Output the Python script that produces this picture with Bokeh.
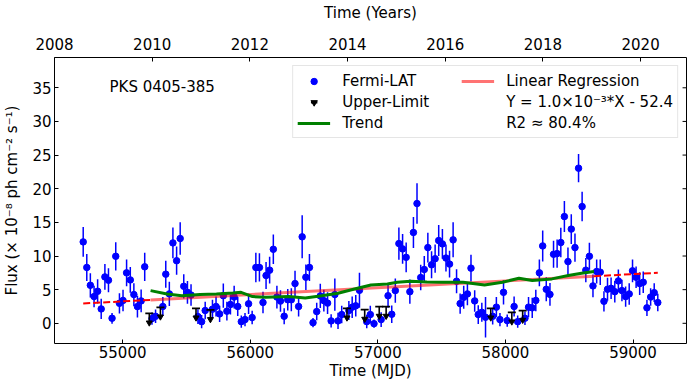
from bokeh.plotting import figure
from bokeh.models import Range1d, LinearAxis, FixedTicker, Legend, LegendItem, Label
from bokeh.embed import file_html
from bokeh.resources import INLINE

# ---------------- data ----------------
mjd = [54691, 54719, 54747, 54776, 54804, 54832, 54861, 54889, 54917, 54946,
       54975, 55003, 55031, 55060, 55088, 55116, 55145, 55173, 55230, 55258,
       55315, 55338, 55366, 55394, 55423, 55451, 55479, 55508, 55536, 55590,
       55619, 55647, 55704, 55732, 55760, 55789, 55817, 55845, 55874, 55902,
       55930, 55959, 55987, 56015, 56044, 56072, 56100, 56124, 56152, 56181,
       56209, 56237, 56266, 56294, 56322, 56351, 56379, 56407, 56436, 56464,
       56492, 56521, 56549, 56577, 56606, 56634, 56663, 56688, 56717, 56773,
       56799, 56827, 56856, 56913, 56941, 56970, 57026, 57080, 57109, 57137,
       57165, 57194, 57222, 57251, 57279, 57307, 57336, 57364, 57392, 57421,
       57449, 57477, 57506, 57534, 57562, 57590, 57617, 57645, 57673, 57702,
       57730, 57759, 57787, 57815, 57844, 57900, 57929, 57957, 57985, 58014,
       58068, 58096, 58153, 58181, 58210, 58238, 58266, 58292, 58320, 58349,
       58377, 58405, 58434, 58462, 58490, 58516, 58545, 58573, 58601, 58630,
       58658, 58686, 58715, 58743, 58772, 58800, 58828, 58857, 58885, 58913,
       58942, 58970, 58996, 59024, 59052, 59080, 59109, 59138, 59166, 59194]
flux = [12.1, 8.3, 5.65, 3.97, 4.76, 2.14, 6.9, 6.4, 0.75, 9.96,
        2.97, 3.4, 7.5, 6.45, 4.27, 2.48, 3.33, 8.4, 0.7, 1.04,
        2.5, 7.3, 4.37, 11.95, 9.3, 12.6, 5.5, 4.6, 4.2, 1.0,
        0.25, 1.9, 2.1, 2.5, 1.4, 4.1, 1.8, 2.8, 3.9, 2.5,
        0.25, 0.55, 2.9, 0.85, 8.3, 8.3, 3.1, 7.1, 7.9, 11.0,
        3.9, 3.3, 1.05, 3.5, 3.5, 5.9, 2.5, 12.85, 6.85, 8.3,
        0.1, 1.74, 4.07, 3.37, 3.0, 0.36, 4.27, 0.36, 1.3, 1.9,
        2.4, 2.6, 4.9, 0.25, 1.3, -0.05, 0.55, 4.1, 1.34, 4.86,
        11.85, 11.06, 9.8, 4.7, 13.5, 17.8, 6.8, 8.0, 11.25, 8.7,
        9.6, 12.3, 11.8, 9.7, 8.8, 12.4, 6.25, 2.93, 3.87, 4.37,
        8.2, 3.33, 1.3, 1.64, 0.9, 1.04, 2.4, 0.55, 4.6, 0.4,
        2.5, 0.25, 0.75, 2.4, 2.3, 3.4, 7.5, 11.5, 5.06, 4.3,
        10.26, 10.36, 12.0, 15.86, 9.17, 14.0, 11.25, 23.05, 17.35, 7.9,
        9.96, 5.56, 7.7, 7.6, 3.27, 5.06, 5.2, 4.7, 6.3, 4.86,
        3.97, 4.37, 7.8, 6.84, 5.9, 6.1, 2.3, 3.9, 4.56, 3.08]
flux_err = [2.2, 2.0, 1.8, 1.6, 1.8, 1.5, 1.9, 1.8, 0.8, 2.1,
            1.5, 1.6, 2.0, 1.9, 1.7, 1.6, 1.7, 2.1, 0.9, 1.0,
            1.4, 2.0, 1.8, 2.3, 2.1, 2.4, 1.8, 1.7, 1.6, 1.1,
            1.0, 1.3, 1.4, 1.5, 1.2, 1.8, 1.4, 1.5, 1.7, 1.4,
            0.9, 1.0, 1.5, 1.0, 2.2, 2.1, 1.6, 2.0, 2.0, 2.2,
            1.7, 1.6, 1.2, 1.6, 1.7, 1.9, 1.5, 3.2, 1.9, 2.0,
            0.7, 1.3, 1.8, 1.6, 1.6, 1.0, 2.4, 1.2, 1.3, 1.4,
            1.6, 1.6, 2.6, 1.0, 1.3, 0.6, 1.1, 1.8, 1.3, 1.8,
            2.4, 2.2, 2.2, 1.8, 2.3, 3.0, 1.9, 2.0, 2.2, 2.0,
            2.1, 2.3, 2.2, 2.0, 2.0, 2.6, 1.8, 1.5, 1.7, 1.7,
            2.0, 1.6, 1.4, 1.4, 3.0, 1.2, 1.5, 1.0, 1.8, 0.9,
            1.5, 0.9, 1.0, 1.5, 1.5, 1.6, 2.0, 2.3, 1.8, 1.7,
            2.0, 2.1, 2.2, 2.3, 2.1, 2.2, 2.1, 2.1, 2.2, 1.8,
            2.0, 1.7, 1.8, 1.9, 1.5, 1.7, 1.6, 1.6, 1.7, 1.6,
            1.5, 1.6, 1.7, 1.6, 1.7, 1.6, 1.2, 1.3, 1.4, 1.3]
ul_mjd = [55209, 55296, 55575, 55688, 56758, 56897, 57011, 57065, 57885, 58050, 58135]
ul_flux = [1.49, 2.38, 2.23, 1.99, 2.23, 2.04, 2.48, 2.48, 2.23, 1.64, 1.89]
trend_mjd = [55219, 55348, 55464, 55606, 55735, 55864, 55928, 56018, 56121, 56302,
             56431, 56560, 56688, 56817, 56946, 57075, 57152, 57256, 57384, 57513,
             57668, 57836, 57977, 58106, 58210, 58364, 58493, 58596, 58694]
trend_flux = [4.86, 4.37, 4.1, 4.27, 4.37, 4.5, 4.6, 3.97, 3.87, 3.97,
              3.77, 4.1, 4.46, 5.1, 5.7, 5.85, 6.1, 6.25, 6.15, 6.1,
              6.1, 5.7, 6.1, 6.7, 6.35, 6.6, 7.1, 7.45, 7.7]
reg_slope = 1.012e-3
reg_intercept = -52.4
mjd_ticks = [55000, 56000, 57000, 58000, 59000]
year_ticks = [2008, 2010, 2012, 2014, 2016, 2018, 2020]
flux_ticks = [0, 5, 10, 15, 20, 25, 30, 35]

FONT = "DejaVu Sans"
FS = "15px"
FRAME_W = 640

p = figure(width=691, height=383,
           x_range=Range1d(54466, 59419), y_range=Range1d(-3, 39.5),
           x_axis_type=None, y_axis_type=None,
           output_backend="svg", toolbar_location=None,
           min_border_left=46, min_border_right=5, min_border_top=57, min_border_bottom=40)
p.extra_x_ranges = {"years": Range1d(2008, 2020.94), "frame": Range1d(0, 1)}
p.grid.visible = False
p.outline_line_color = "black"
p.outline_line_width = 1
p.background_fill_color = "white"
p.border_fill_color = "white"


def style_axis(ax):
    ax.axis_line_color = None
    ax.major_tick_in = 4
    ax.major_tick_out = 0
    ax.major_tick_line_color = "black"
    ax.minor_tick_line_color = None
    ax.major_label_text_font = FONT
    ax.major_label_text_font_size = FS
    ax.major_label_text_color = "black"
    ax.axis_label_text_font = FONT
    ax.axis_label_text_font_size = FS
    ax.axis_label_text_font_style = "normal"
    ax.axis_label_text_color = "black"


bottom = LinearAxis(ticker=FixedTicker(ticks=mjd_ticks), axis_label="Time (MJD)")
style_axis(bottom)
bottom.major_label_standoff = 2
bottom.axis_label_standoff = 1
p.add_layout(bottom, "below")

top = LinearAxis(x_range_name="years", ticker=FixedTicker(ticks=year_ticks), axis_label="Time (Years)")
style_axis(top)
top.major_label_standoff = 8
top.axis_label_standoff = 13
p.add_layout(top, "above")

left = LinearAxis(ticker=FixedTicker(ticks=flux_ticks), axis_label="Flux (× 10⁻⁸ ph cm⁻² s⁻¹)")
style_axis(left)
left.major_label_standoff = 3
left.axis_label_standoff = 8
p.add_layout(left, "left")

# inward ticks on the right edge of the frame (no labels)
tick_frac = 4.0 / FRAME_W
p.segment(x0=[1 - tick_frac] * len(flux_ticks), y0=flux_ticks,
          x1=[1.0] * len(flux_ticks), y1=flux_ticks,
          x_range_name="frame", line_color="black", line_width=1)

# error bars and points
lo = [f - e for f, e in zip(flux, flux_err)]
hi = [f + e for f, e in zip(flux, flux_err)]
p.segment(x0=mjd, y0=lo, x1=mjd, y1=hi, line_color="blue", line_width=1.5)
pts = p.scatter(x=mjd, y=flux, size=6.5, fill_color="blue", line_color="blue", marker="circle")

# upper limits
ul_len = 1.4
ul_low = [u - ul_len for u in ul_flux]
p.segment(x0=ul_mjd, y0=ul_flux, x1=ul_mjd, y1=ul_low, line_color="black", line_width=1.6)
ul_cap = p.scatter(x=ul_mjd, y=ul_flux, marker="dash", size=8, line_color="black", line_width=1.8)
ul_head = p.scatter(x=ul_mjd, y=ul_low, marker="inverted_triangle", size=6,
                    fill_color="black", line_color="black")

# regression
x_left = [mjd[0], trend_mjd[0]]
x_mid = [trend_mjd[0], trend_mjd[-1]]
x_right = [trend_mjd[-1], mjd[-1]]
reg = lambda xs: [reg_slope * x + reg_intercept for x in xs]
p.line(x=x_left, y=reg(x_left), line_color="red", line_width=2, line_dash="7 3")
p.line(x=x_right, y=reg(x_right), line_color="red", line_width=2, line_dash="7 3")
reg_solid = p.line(x=x_mid, y=reg(x_mid), line_color="red", line_alpha=0.55, line_width=3)

# trend
trend = p.line(x=trend_mjd, y=trend_flux, line_color="green", line_width=3)

# invisible renderers for text-only legend entries
inv1 = p.line(x=[mjd[0], mjd[1]], y=[flux[0], flux[1]], line_alpha=0)
inv2 = p.line(x=[mjd[0], mjd[1]], y=[flux[0], flux[1]], line_alpha=0)

legend = Legend(items=[
    LegendItem(label="Fermi-LAT", renderers=[pts]),
    LegendItem(label="Upper-Limit", renderers=[ul_cap, ul_head]),
    LegendItem(label="Trend", renderers=[trend]),
    LegendItem(label="Linear Regression", renderers=[reg_solid]),
    LegendItem(label="Y = 1.0×10⁻³*X - 52.4", renderers=[inv1]),
    LegendItem(label="R2 ≈ 80.4%", renderers=[inv2]),
], location="top_right", ncols=2)
legend.label_text_font = FONT
legend.label_text_font_size = "15px"
legend.label_text_color = "black"
legend.glyph_width = 33
legend.glyph_height = 16
legend.label_height = 21
legend.label_width = 119
legend.label_standoff = 12
legend.spacing = 0
legend.padding = 4
legend.margin = 8
legend.border_line_color = "#cccccc"
legend.border_line_width = 1
legend.background_fill_alpha = 0.85
p.add_layout(legend)

p.add_layout(Label(x=55, y=257, x_units="screen", y_units="screen", text="PKS 0405-385",
                   text_font=FONT, text_font_size=FS, text_color="black",
                   text_baseline="middle"))

open("out.html", "w").write(file_html(p, INLINE))
